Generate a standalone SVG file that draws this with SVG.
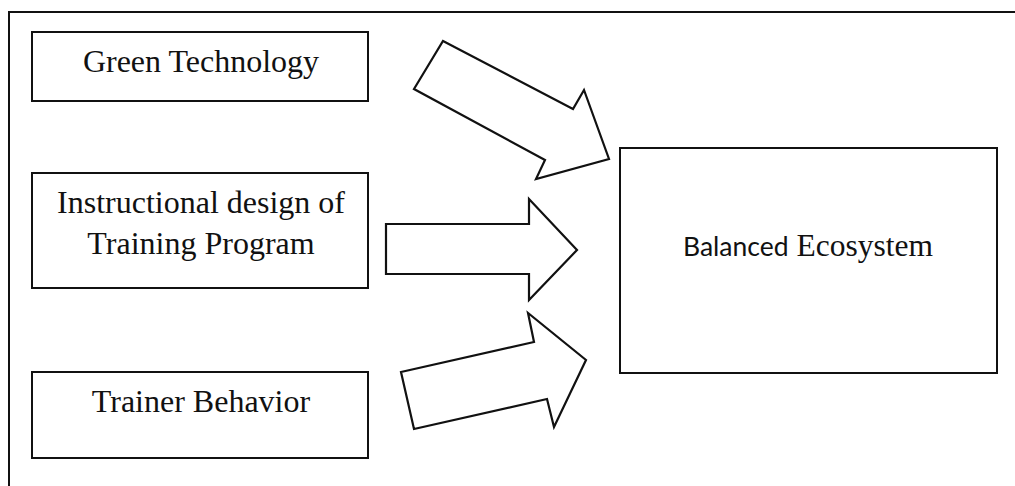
<svg xmlns="http://www.w3.org/2000/svg" width="1015" height="486" viewBox="0 0 1015 486">
<style>
.box{fill:#fff;stroke:#111;stroke-width:2}
.arrow{fill:#fff;stroke:#111;stroke-width:2.2;stroke-linejoin:miter}
.t{font-family:"Liberation Serif","Times New Roman",serif;font-size:32px;fill:#111;text-anchor:middle}
</style>
<rect width="1015" height="486" fill="#fff"/>
<path d="M9,486 V12 H1015" fill="none" stroke="#111" stroke-width="2"/>
<g id="green-technology">
<rect class="box" x="32" y="32" width="336" height="69"/>
<text class="t" x="201" y="72">Green Technology</text>
</g>
<g id="instructional-design">
<rect class="box" x="32" y="173" width="336" height="115"/>
<text class="t" x="201" y="213">Instructional design of</text>
<text class="t" x="201" y="254">Training Program</text>
</g>
<g id="trainer-behavior">
<rect class="box" x="32" y="372" width="336" height="86"/>
<text class="t" x="201" y="412">Trainer Behavior</text>
</g>
<g id="balanced-ecosystem">
<rect class="box" x="620" y="148" width="377" height="225"/>
<text x="683" y="256" fill="#111"><tspan font-family="Lato,'Open Sans',sans-serif" font-size="26.5">Balanced</tspan><tspan font-family="'Liberation Serif','Times New Roman',serif" font-size="31.5" dx="8">Ecosystem</tspan></text>
</g>
<g id="connectors">
<polygon class="arrow" points="443,41 573,109 584,90 609,159 536,179 545,160 414,89"/>
<polygon class="arrow" points="386,224 529,224 529,199 577,250 529,300 529,274 386,274"/>
<polygon class="arrow" points="401,372 534,342 528,313 586,360 554,427 547,399 414,429"/>
</g>
</svg>
